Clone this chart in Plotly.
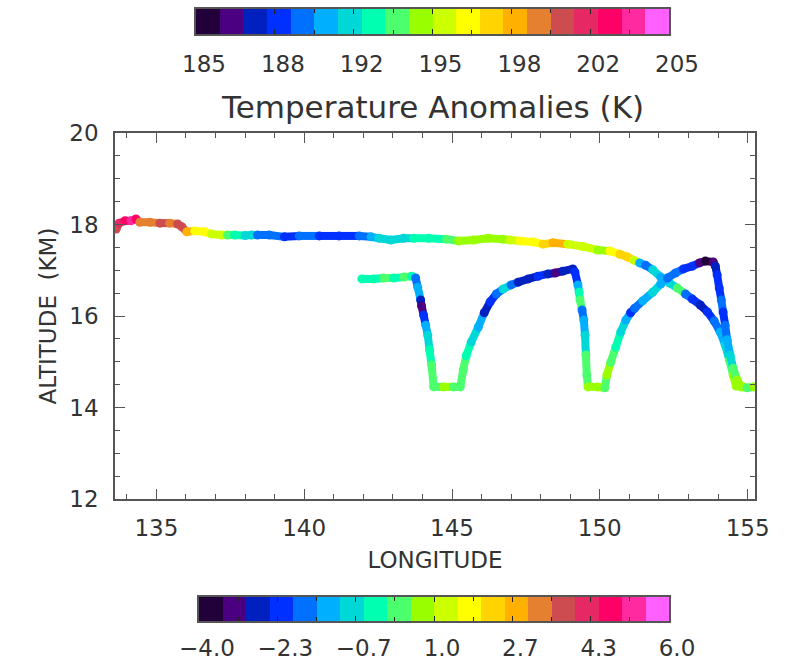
import plotly.graph_objects as go
import numpy as np

# ---------------- data ----------------
level_colors = ["#22003a", "#4b0082", "#0020c0", "#0030ff", "#0070ff",
                "#00b0ff", "#00d8d8", "#00ffb0", "#4cff6c", "#99ff00",
                "#ccff00", "#ffff00", "#ffd400", "#ffb000", "#e58030",
                "#cc4c50", "#e62864", "#ff0066", "#ff2aa0", "#ff60ff"]

temp_range = [185, 205]
temp_ticktext = ["185", "188", "192", "195", "198", "202", "205"]
anom_range = [-4.0, 6.0]
anom_ticktext = ["\u22124.0", "\u22122.3", "\u22120.7", "1.0", "2.7", "4.3", "6.0"]

lon_ticks = [135, 140, 145, 150, 155]
alt_ticks = [12, 14, 16, 18, 20]

upper_lon = [133.64, 133.74, 133.94, 134.14, 134.31, 134.44, 134.78, 135.12, 135.45, 135.72,
             135.86, 136.03, 136.30, 136.63, 136.87, 137.21, 137.41, 137.64, 138.00, 138.22,
             138.42, 138.82, 139.33, 139.83, 140.51, 141.18, 141.86, 142.26, 142.53, 142.93,
             143.37, 143.71, 144.21, 144.81, 145.22, 145.73, 146.23, 146.73, 146.97, 147.31,
             147.74, 148.08, 148.42, 148.92, 149.43, 149.93, 150.34, 150.68, 150.94, 151.15,
             151.35, 151.55, 151.79, 152.06, 152.36, 152.63, 152.90, 153.13, 153.40, 153.64,
             153.87, 154.07, 154.24, 154.38, 154.51, 154.61, 154.85]
upper_alt = [17.90, 18.03, 18.08, 18.08, 18.12, 18.05, 18.05, 18.03, 18.03, 18.01,
             17.95, 17.84, 17.86, 17.84, 17.79, 17.77, 17.77, 17.77, 17.76, 17.77,
             17.77, 17.77, 17.73, 17.75, 17.75, 17.75, 17.75, 17.73, 17.70, 17.66,
             17.70, 17.70, 17.70, 17.68, 17.64, 17.66, 17.70, 17.68, 17.66, 17.64,
             17.62, 17.57, 17.60, 17.57, 17.52, 17.44, 17.42, 17.35, 17.29, 17.22,
             17.16, 17.11, 17.01, 16.85, 16.72, 16.61, 16.48, 16.37, 16.24, 16.09,
             15.89, 15.65, 15.37, 15.04, 14.71, 14.47, 14.45]
upper_anom = [3.75, 4.25, 4.75, 5.25, 4.75, 3.25, 3.25, 3.75, 3.25, 3.75,
              3.75, 2.75, 1.75, 1.75, 1.25, 1.25, 0.25, -0.25, -0.75, -0.75,
              -1.75, -1.75, -2.25, -1.75, -2.25, -2.25, -1.75, -1.25, -0.75, -0.75,
              -0.75, -0.25, -0.25, 0.25, 0.75, 0.75, 0.75, 0.75, 1.25, 1.75,
              1.75, 2.25, 2.75, 1.25, 1.25, 0.75, 1.75, 2.25, 2.25, 1.25,
              -1.25, -1.75, -0.75, -1.25, -0.75, 0.25, -1.75, -2.25, -2.75, -2.25,
              -1.75, -1.25, -0.75, 0.25, 0.75, 0.75, 0.75]

lower_lon = [141.95, 142.36, 142.69, 143.03, 143.37, 143.64, 143.77, 143.84, 143.94, 143.97,
             144.04, 144.11, 144.18, 144.24, 144.31, 144.38, 144.71, 145.05, 145.28, 145.38,
             145.48, 145.65, 145.89, 146.09, 146.29, 146.50, 146.73, 147.00, 147.24, 147.58,
             147.91, 148.25, 148.49, 148.75, 149.09, 149.16, 149.26, 149.30, 149.33, 149.40,
             149.46, 149.50, 149.53, 149.56, 149.60, 149.93, 150.17, 150.24, 150.37, 150.54,
             150.71, 150.88, 151.04, 151.18, 151.45, 151.79, 152.06, 152.29, 152.56, 152.83,
             153.13, 153.37, 153.57, 153.84, 153.91, 153.97, 154.04, 154.11, 154.17, 154.24,
             154.31, 154.41, 154.51, 154.65, 154.78, 154.98, 155.22]
lower_alt = [16.81, 16.81, 16.83, 16.83, 16.85, 16.87, 16.83, 16.63, 16.35, 16.22,
             16.02, 15.80, 15.58, 15.26, 14.93, 14.45, 14.45, 14.45, 14.45, 14.82,
             15.13, 15.43, 15.76, 16.07, 16.31, 16.48, 16.59, 16.68, 16.74, 16.81,
             16.87, 16.92, 16.94, 16.98, 17.03, 16.96, 16.68, 16.52, 16.35, 16.13,
             15.91, 15.58, 15.15, 14.71, 14.45, 14.45, 14.43, 14.71, 14.99, 15.32,
             15.65, 15.91, 16.07, 16.17, 16.33, 16.52, 16.70, 16.83, 16.94, 17.03,
             17.09, 17.16, 17.20, 17.18, 17.09, 16.90, 16.61, 16.35, 16.09, 15.80,
             15.48, 15.15, 14.86, 14.60, 14.45, 14.43, 14.45]
lower_anom = [-0.25, -0.25, 0.25, -0.25, 0.25, -0.25, -1.75, -1.25, -2.75, -3.25,
              -2.25, -1.25, -0.75, -0.25, 0.25, 0.25, 0.75, 0.25, 0.25, 0.25,
              -0.25, -0.75, -1.25, -2.75, -2.25, -1.75, -0.75, -1.75, -2.75, -2.75,
              -2.25, -2.75, -3.25, -2.75, -2.75, -2.25, -1.25, -0.25, 0.25, -1.75,
              -1.25, -0.75, 0.25, 0.25, 0.75, 0.75, 0.25, 0.75, 0.25, -0.25,
              -0.75, -1.25, -2.25, -1.75, -1.25, -0.75, -1.25, -1.75, -1.75, -2.25,
              -2.25, -3.25, -3.75, -3.25, -2.75, -2.25, -2.25, -1.75, -2.25, -1.75,
              -1.25, -0.75, 0.25, 0.75, 0.75, 0.25, 0.75]

# ---------------- helpers ----------------
nlev = len(level_colors)
discrete_scale = []
for k, c in enumerate(level_colors):
    discrete_scale.append([k / nlev, c])
    discrete_scale.append([(k + 1) / nlev, c])


def level_of(v):
    f = (v - anom_range[0]) / (anom_range[1] - anom_range[0])
    return int(min(max(np.floor(f * nlev), 0), nlev - 1))


FONT = "DejaVu Sans"
TXT = "#333333"
AX = "#555555"

fig = go.Figure()

LW = 8
for lon, alt, anom in [(upper_lon, upper_alt, upper_anom), (lower_lon, lower_alt, lower_anom)]:
    segs = {}
    for i in range(len(lon) - 1):
        k = level_of(anom[i])
        xs, ys = segs.setdefault(k, ([], []))
        xs += [lon[i], lon[i + 1], None]
        ys += [alt[i], alt[i + 1], None]
    for k, (xs, ys) in segs.items():
        fig.add_trace(go.Scatter(x=xs, y=ys, mode="lines", xaxis="x", yaxis="y",
                                 line=dict(color=level_colors[k], width=LW),
                                 hoverinfo="skip", showlegend=False))
    fig.add_trace(go.Scatter(x=lon, y=alt, mode="markers", xaxis="x", yaxis="y",
                             marker=dict(size=LW + 1, color=anom, colorscale=discrete_scale,
                                         cmin=anom_range[0], cmax=anom_range[1],
                                         line=dict(width=0)),
                             hoverinfo="skip", showlegend=False))

# colour bars as heatmaps on their own axes
temp_edges = np.linspace(temp_range[0], temp_range[1], nlev + 1)
anom_edges = np.linspace(anom_range[0], anom_range[1], nlev + 1)
temp_centers = (temp_edges[:-1] + temp_edges[1:]) / 2
anom_centers = (anom_edges[:-1] + anom_edges[1:]) / 2

fig.add_trace(go.Heatmap(x=temp_centers, y=[0], z=[list(anom_centers)], xaxis="x2", yaxis="y2",
                         colorscale=discrete_scale, zmin=anom_range[0], zmax=anom_range[1],
                         showscale=False, hoverinfo="skip"))
fig.add_trace(go.Heatmap(x=anom_centers, y=[0], z=[list(anom_centers)], xaxis="x3", yaxis="y3",
                         colorscale=discrete_scale, zmin=anom_range[0], zmax=anom_range[1],
                         showscale=False, hoverinfo="skip"))

W, H = 787, 663


def px_x(a, b):
    return [a / W, b / W]


def px_y(top, bottom):
    return [1 - bottom / H, 1 - top / H]


tickfont = dict(family=FONT, size=23, color=TXT)

temp_tickvals = list(np.linspace(temp_range[0], temp_range[1], len(temp_ticktext)))
anom_tickvals = list(np.linspace(anom_range[0], anom_range[1], len(anom_ticktext)))
temp_minor = [(temp_tickvals[i] + temp_tickvals[i + 1]) / 2 for i in range(len(temp_tickvals) - 1)]
anom_minor = [(anom_tickvals[i] + anom_tickvals[i + 1]) / 2 for i in range(len(anom_tickvals) - 1)]

bar_axis_common = dict(showline=True, linecolor=AX, linewidth=1.5, mirror="ticks",
                       ticks="inside", ticklen=5, tickcolor="#222", tickwidth=1.2,
                       showgrid=False, zeroline=False, tickfont=tickfont, automargin=False,
                       tickmode="array", ticklabelshift=8)

fig.update_layout(
    width=W, height=H,
    margin=dict(l=0, r=0, t=0, b=0, autoexpand=False),
    paper_bgcolor="white", plot_bgcolor="white",
    showlegend=False,
    font=dict(family=FONT, color=TXT),
    xaxis=dict(domain=px_x(115, 755), anchor="y", range=[133.6, 155.25], automargin=False,
               tickvals=lon_ticks, ticks="inside", ticklen=10, tickwidth=1.2, tickcolor=AX,
               minor=dict(dtick=1, tick0=0, ticks="inside", ticklen=5, tickcolor=AX, tickwidth=1.2),
               showline=True, linecolor=AX, linewidth=1.5, mirror="ticks",
               showgrid=False, zeroline=False, tickfont=tickfont, ticklabelstandoff=8,
               title=dict(text="LONGITUDE", font=dict(family=FONT, size=23, color=TXT), standoff=12)),
    yaxis=dict(domain=px_y(133, 499), anchor="x", range=[12, 20], automargin=False,
               tickvals=alt_ticks, ticks="inside", ticklen=10, tickwidth=1.2, tickcolor=AX,
               minor=dict(dtick=0.5, tick0=0, ticks="inside", ticklen=5, tickcolor=AX, tickwidth=1.2),
               showline=True, linecolor=AX, linewidth=1.5, mirror="ticks",
               showgrid=False, zeroline=False, tickfont=tickfont, ticklabelstandoff=10,
               title=dict(text="ALTITUDE  (KM)", font=dict(family=FONT, size=23, color=TXT), standoff=6)),
    xaxis2=dict(domain=px_x(196, 669), anchor="y2", range=temp_range,
                tickvals=temp_tickvals, ticktext=temp_ticktext, ticklabelstandoff=9,
                minor=dict(tickvals=temp_minor, ticks="inside", ticklen=4, tickcolor="#222"),
                **bar_axis_common),
    yaxis2=dict(domain=px_y(9, 34), anchor="x2", range=[-0.5, 0.5], showticklabels=False,
                ticks="", showline=True, linecolor=AX, linewidth=1.5, mirror=True, automargin=False,
                showgrid=False, zeroline=False),
    xaxis3=dict(domain=px_x(199, 669), anchor="y3", range=anom_range,
                tickvals=anom_tickvals, ticktext=anom_ticktext, ticklabelstandoff=6,
                minor=dict(tickvals=anom_minor, ticks="inside", ticklen=4, tickcolor="#222"),
                **bar_axis_common),
    yaxis3=dict(domain=px_y(597, 621), anchor="x3", range=[-0.5, 0.5], showticklabels=False,
                ticks="", showline=True, linecolor=AX, linewidth=1.5, mirror=True, automargin=False,
                showgrid=False, zeroline=False),
    annotations=[dict(text="Temperature Anomalies (K)", xref="paper", yref="paper",
                      x=432 / W, y=1 - 107 / H, xanchor="center", yanchor="middle",
                      showarrow=False, font=dict(family=FONT, size=31, color=TXT))],
)

fig.write_html("out.html")
